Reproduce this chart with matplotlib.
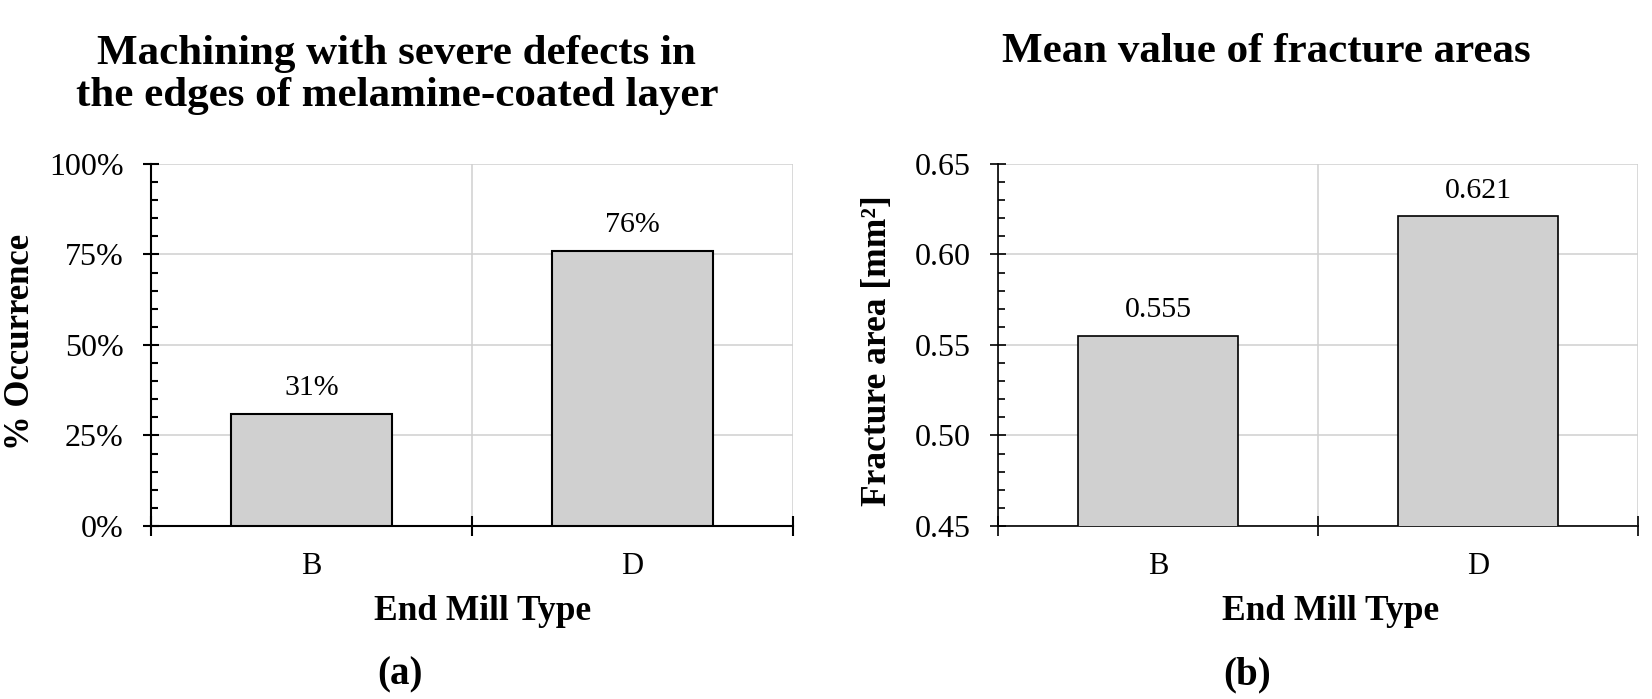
import matplotlib
matplotlib.use('Agg')
import matplotlib.pyplot as plt
from matplotlib.ticker import MultipleLocator, FixedLocator, PercentFormatter, FormatStrFormatter

# datos
mill_types = ['B', 'D']
occurrence = [31, 76]           # % de mecanizados con defectos severos
fracture_area = [0.555, 0.621]  # mm2

plt.rcParams['font.family'] = ['Liberation Serif', 'DejaVu Serif']

fig = plt.figure(figsize=(16.52, 6.99), dpi=100)
ax1 = fig.add_axes([0.0914, 0.2475, 0.3886, 0.5179])
ax2 = fig.add_axes([0.6041, 0.2475, 0.3874, 0.5179])


def style_axes(ax, lw):
    ax.spines['top'].set_visible(False)
    ax.spines['right'].set_visible(False)
    ax.spines['left'].set_linewidth(lw)
    ax.spines['bottom'].set_linewidth(lw)
    ax.set_xlim(-0.5, 1.5)
    ax.set_xticks(range(len(mill_types)))
    ax.set_xticklabels(mill_types, fontsize=22)
    ax.xaxis.set_minor_locator(FixedLocator([-0.5, 0.5, 1.5]))
    ax.tick_params(axis='x', which='major', length=0, pad=19)
    ax.tick_params(axis='x', which='minor', direction='inout', length=14, width=lw)
    ax.tick_params(axis='y', which='major', direction='inout', length=11.5, width=lw,
                   labelsize=23, pad=14)
    ax.tick_params(axis='y', which='minor', direction='in', length=5, width=lw)
    ax.grid(True, axis='y', which='major', color='#d0d0d0', lw=1.1)
    ax.grid(True, axis='x', which='minor', color='#d0d0d0', lw=1.1)
    ax.set_axisbelow(True)


# (a) porcentaje de ocurrencia
style_axes(ax1, 1.5)
bars1 = ax1.bar(range(len(mill_types)), occurrence, width=0.5, color='#d0d0d0',
                edgecolor='black', linewidth=1.5, zorder=3)
ax1.set_ylim(0, 100)
ax1.yaxis.set_major_locator(MultipleLocator(25))
ax1.yaxis.set_minor_locator(MultipleLocator(5))
ax1.yaxis.set_major_formatter(PercentFormatter(100, decimals=0))
ax1.bar_label(bars1, labels=[f'{v}%' for v in occurrence], padding=9, fontsize=21.5)
ax1.text(0.383, 1.245, 'Machining with severe defects in\nthe edges of melamine-coated layer',
         transform=ax1.transAxes, ha='center', va='center', fontsize=31,
         fontweight='bold', linespacing=1.15)
ax1.text(0.517, -0.237, 'End Mill Type', transform=ax1.transAxes, ha='center',
         va='center', fontsize=25.5, fontweight='bold')
ax1.text(0.388, -0.41, '(a)', transform=ax1.transAxes, ha='center', va='center',
         fontsize=28, fontweight='bold')
ax1.text(-0.204, 0.508, '% Occurrence', transform=ax1.transAxes, ha='center',
         va='center', rotation=90, fontsize=25, fontweight='bold')

# (b) area media de fractura
style_axes(ax2, 1.2)
bars2 = ax2.bar(range(len(mill_types)), fracture_area, width=0.5, color='#d0d0d0',
                edgecolor='black', linewidth=1.2, zorder=3)
ax2.set_ylim(0.45, 0.65)
ax2.yaxis.set_major_locator(MultipleLocator(0.05))
ax2.yaxis.set_minor_locator(MultipleLocator(0.01))
ax2.yaxis.set_major_formatter(FormatStrFormatter('%.2f'))
ax2.bar_label(bars2, labels=[f'{v:.3f}' for v in fracture_area], padding=9, fontsize=21.5)
ax2.text(0.419, 1.31, 'Mean value of fracture areas', transform=ax2.transAxes,
         ha='center', va='center', fontsize=31, fontweight='bold')
ax2.text(0.519, -0.237, 'End Mill Type', transform=ax2.transAxes, ha='center',
         va='center', fontsize=25.5, fontweight='bold')
ax2.text(0.389, -0.41, '(b)', transform=ax2.transAxes, ha='center', va='center',
         fontsize=28, fontweight='bold')
ax2.text(-0.189, 0.485, 'Fracture area [mm²]', transform=ax2.transAxes, ha='center',
         va='center', rotation=90, fontsize=25.5, fontweight='bold')

fig.savefig('out.png', dpi=100)
